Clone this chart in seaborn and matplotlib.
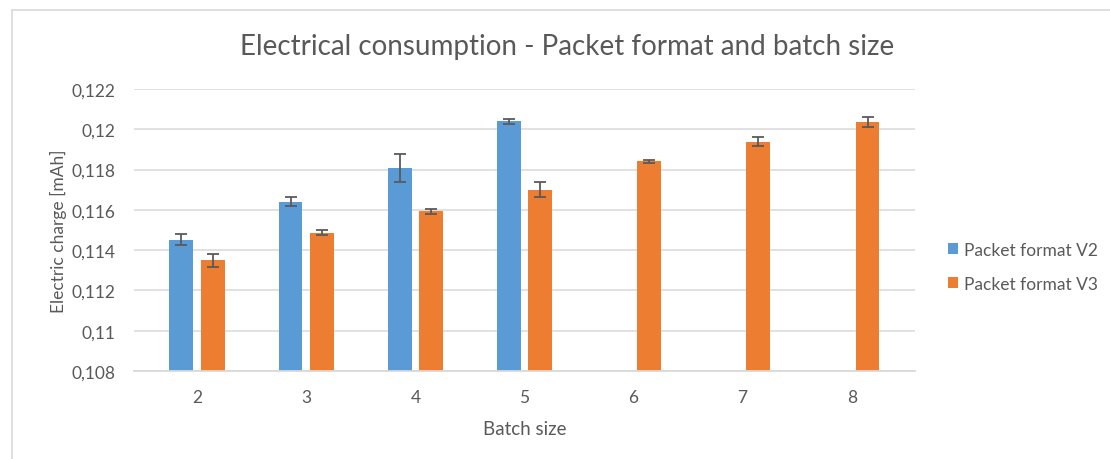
import matplotlib
matplotlib.use("Agg")
import matplotlib.pyplot as plt
import seaborn as sns
import numpy as np
import pandas as pd
from matplotlib.lines import Line2D
from matplotlib.ticker import FuncFormatter, MultipleLocator

sns.set_style("white")
plt.rcParams['font.family'] = ['Lato', 'DejaVu Sans']

# Data
batch_sizes = [2, 3, 4, 5, 6, 7, 8]
v2_mean = [0.11452, 0.11640, 0.11807, 0.12040, np.nan, np.nan, np.nan]
v2_err = [0.00027, 0.00022, 0.00070, 0.00012, np.nan, np.nan, np.nan]
v3_mean = [0.11349, 0.11487, 0.11592, 0.11700, 0.11842, 0.11938, 0.12037]
v3_err = [0.00031, 0.00012, 0.00012, 0.00036, 0.00007, 0.00022, 0.00025]
series = ['Packet format V2', 'Packet format V3']
colors = ['#5B9BD5', '#ED7D31']

rows = []
for name, means, errs in [(series[0], v2_mean, v2_err), (series[1], v3_mean, v3_err)]:
    for b, m, e in zip(batch_sizes, means, errs):
        if not np.isnan(m):
            rows.append({'batch': str(b), 'format': name, 'charge': m, 'err': e})
df = pd.DataFrame(rows)

text_col = '#595959'
grid_col = '#d9d9d9'

fig = plt.figure(figsize=(11.1, 4.6), dpi=100)
ax = fig.add_axes([0.1207, 0.1913, 0.7036, 0.613])

sns.barplot(data=df, x='batch', y='charge', hue='format', order=[str(b) for b in batch_sizes],
            hue_order=series, palette=colors, width=0.577, gap=0.24, errorbar=None,
            saturation=1, linewidth=0, ax=ax)

# error bars on top of each bar
for cont, name in zip(ax.containers, series):
    sub = df[df['format'] == name]
    for bar, e in zip(cont, sub['err']):
        ax.errorbar(bar.get_x() + bar.get_width() / 2, bar.get_height(), yerr=e,
                    fmt='none', ecolor='#5a5a5a', elinewidth=1.3, capsize=4.5, capthick=1.3, zorder=5)

ax.set_ylim(0.108, 0.122)
ax.yaxis.set_major_locator(MultipleLocator(0.002))
ax.yaxis.set_major_formatter(FuncFormatter(lambda v, p: f"{v:.3f}".rstrip('0').replace('.', ',')))
ax.grid(axis='y', color=grid_col, linewidth=1.1)
ax.set_axisbelow(True)
for s in ['top', 'right', 'left']:
    ax.spines[s].set_visible(False)
ax.spines['bottom'].set_color(grid_col)
ax.spines['bottom'].set_linewidth(1.3)
ax.tick_params(axis='both', length=0, labelsize=12.5, labelcolor=text_col)
ax.tick_params(axis='y', pad=13.5)
ax.tick_params(axis='x', pad=13)

ax.set_xlabel('Batch size', fontsize=13.5, color=text_col, labelpad=11)
ax.set_ylabel('Electric charge [mAh]', fontsize=12.5, color=text_col, labelpad=3)
ax.set_title('Electrical consumption - Packet format and batch size', fontsize=20,
             color=text_col, pad=25, x=0.554)

ax.legend(loc='center left', bbox_to_anchor=(1.022, 0.369), frameon=False, fontsize=12.5,
          labelcolor=text_col, handlelength=0.6, handleheight=0.6, handletextpad=0.35,
          labelspacing=1.05)

# chart area border (left and top edges visible)
fig.add_artist(Line2D([0.0108, 0.0108], [0.0, 0.976], transform=fig.transFigure, color=grid_col, lw=1.2))
fig.add_artist(Line2D([0.0108, 1.0], [0.976, 0.976], transform=fig.transFigure, color=grid_col, lw=1.2))

fig.savefig('out.png', dpi=100)
